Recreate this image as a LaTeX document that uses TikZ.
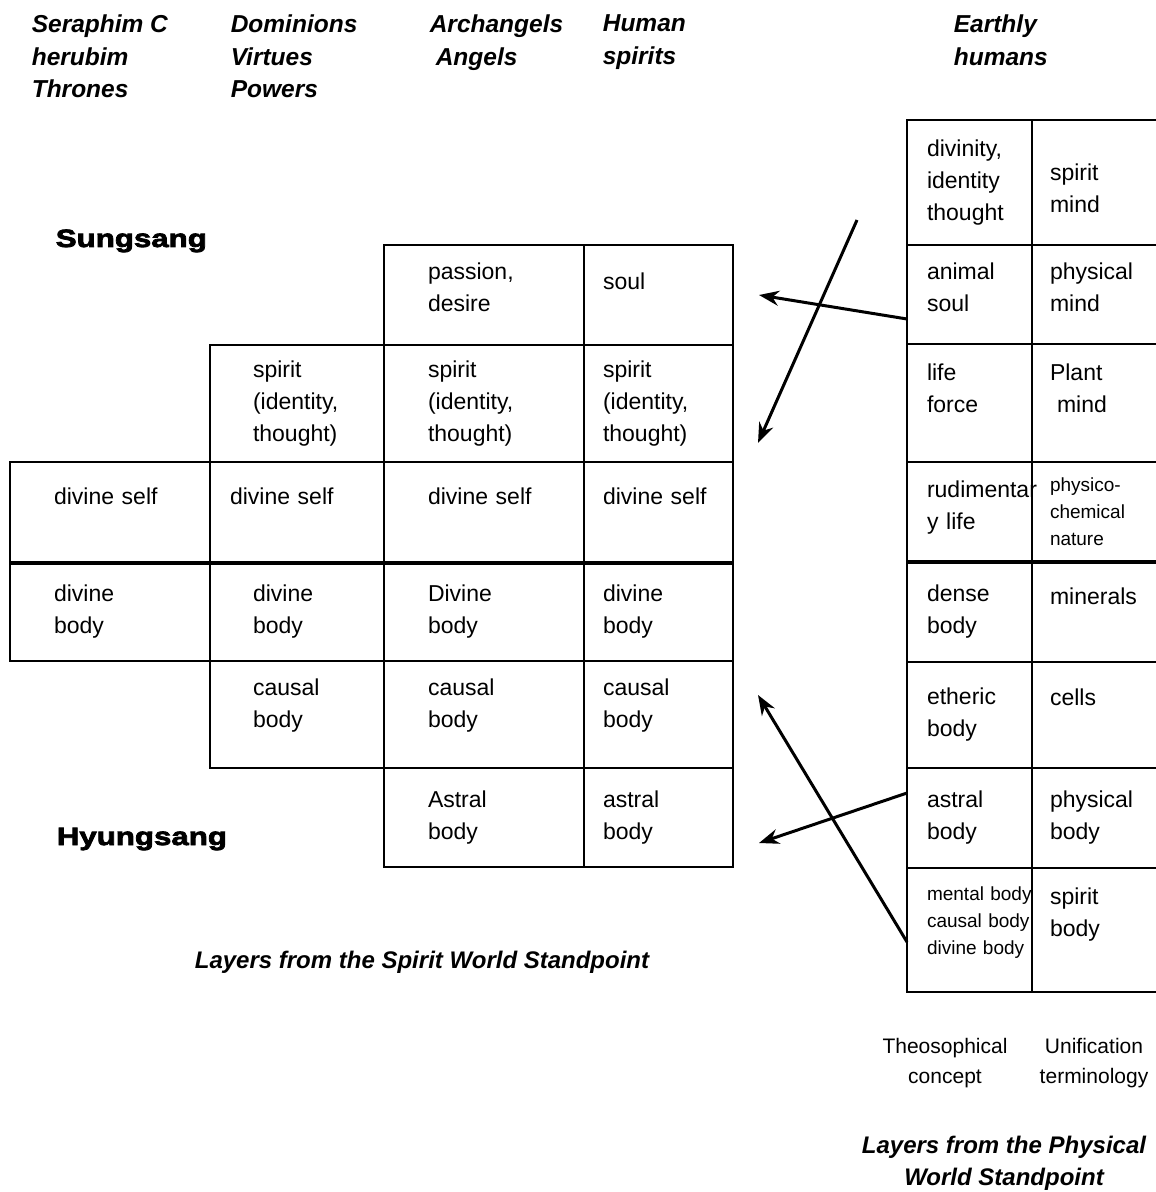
\documentclass[tikz,border=0pt]{standalone}
\usepackage{fontspec}
\setmainfont{Liberation Sans}
\newfontfamily\heavyfont{Liberation Sans}[BoldFeatures={FakeBold=3},FakeStretch=1.25]
\usetikzlibrary{arrows.meta,positioning}
\hyphenpenalty=10000

\begin{document}
\begin{tikzpicture}[x=0.5pt,y=-0.5pt,>={Stealth[length=10pt,width=7.5pt]},
                    thick,node distance=0pt]
  \tikzstyle{cell}=[draw,inner sep=0pt,outer sep=0pt,align=left,font=\fontsize{11.5}{16}\selectfont]
  \tikzstyle{smalltxt}=[font=\fontsize{9.5}{13.5}\selectfont]
  \tikzstyle{colA}=[cell,minimum width=100pt,text width=56pt]
  \tikzstyle{colB}=[cell,minimum width=87pt,text width=44pt]
  \tikzstyle{colBb}=[cell,minimum width=87pt,text width=67pt]
  \tikzstyle{colC}=[cell,minimum width=100pt,text width=56pt]
  \tikzstyle{colD}=[cell,minimum width=74.5pt,text width=55.5pt]
  \tikzstyle{phA}=[cell,minimum width=62.5pt,text width=42.5pt]
  \tikzstyle{phB}=[cell,minimum width=70pt,text width=52pt]
  \tikzstyle{head}=[anchor=north west,inner sep=0pt,align=left,
                    font=\fontsize{12.25}{16.25}\selectfont\bfseries\itshape]
  \tikzstyle{side}=[anchor=base west,inner sep=0pt,font=\fontsize{12.5}{15}\selectfont\heavyfont\bfseries]
  \tikzstyle{captxt}=[inner sep=0pt,align=center,font=\fontsize{12}{16}\selectfont\bfseries\itshape]
  \tikzstyle{colname}=[anchor=north,inner sep=0pt,align=center,font=\fontsize{10.5}{15}\selectfont]
  \tikzstyle{link}=[->,line width=1.5pt]

  \useasboundingbox (0,0) rectangle (1155,1192);

  % headings
  \node[head] (seraphim) at (31,14)  {Seraphim C\\herubim\\Thrones};
  \node[head] (dominions) at (230,14) {Dominions\\Virtues\\Powers};
  \node[head] (archangels) at (429,14) {Archangels\\\hspace*{3pt}Angels};
  \node[head] (human) at (602,14) {Human\\spirits};
  \node[head] (earthly) at (953,14) {Earthly\\humans};

  \node[side] (sungsang) at (55,247) {Sungsang};
  \node[side] (hyungsang) at (56,845) {Hyungsang};

  % spirit world table
  \node[colC,minimum height=50pt,text depth=24pt,anchor=north west] (c1) at (384,245) {passion,\\desire};
  \node[colD,minimum height=50pt,text depth=14pt] (d1) [right=of c1] {soul};

  \node[colB,minimum height=58.5pt,anchor=north west] (b2) at (210,345) {spirit\\(identity,\\thought)};
  \node[colC,minimum height=58.5pt] (c2) [right=of b2] {spirit\\(identity,\\thought)};
  \node[colD,minimum height=58.5pt] (d2) [right=of c2] {spirit\\(identity,\\thought)};

  \node[colA,minimum height=50.5pt,text depth=16pt,anchor=north west] (a3) at (10,462) {divine self};
  \node[colBb,minimum height=50.5pt,text depth=16pt] (b3) [right=of a3] {divine self};
  \node[colC,minimum height=50.5pt,text depth=16pt] (c3) [right=of b3] {divine self};
  \node[colD,minimum height=50.5pt,text depth=16pt] (d3) [right=of c3] {divine self};

  \node[colA,minimum height=49pt,anchor=north west] (a4) at (10,563) {divine\\body};
  \node[colB,minimum height=49pt] (b4) [right=of a4] {divine\\body};
  \node[colC,minimum height=49pt] (c4) [right=of b4] {Divine\\body};
  \node[colD,minimum height=49pt] (d4) [right=of c4] {divine\\body};

  \node[colB,minimum height=53.5pt,text depth=27.5pt,anchor=north west] (b5) at (210,661) {causal\\body};
  \node[colC,minimum height=53.5pt,text depth=27.5pt] (c5) [right=of b5] {causal\\body};
  \node[colD,minimum height=53.5pt,text depth=27.5pt] (d5) [right=of c5] {causal\\body};

  \node[colC,minimum height=49.5pt,anchor=north west] (c6) at (384,768) {Astral\\body};
  \node[colD,minimum height=49.5pt] (d6) [right=of c6] {astral\\body};

  \draw[line width=2pt] (a4.north west) -- (d4.north east);

  % physical world table
  \node[phA,minimum height=62.5pt,anchor=north west] (u1) at (907,120) {divinity,\\identity\\thought};
  \node[phB,minimum height=62.5pt,text depth=10pt] (v1) [right=of u1] {spirit\\mind};
  \node[phA,minimum height=49.5pt,text depth=23pt] (u2) [below=of u1] {animal\\soul};
  \node[phB,minimum height=49.5pt,text depth=23pt] (v2) [right=of u2] {physical\\mind};
  \node[phA,minimum height=59pt,text depth=31pt] (u3) [below=of u2] {life\\force};
  \node[phB,minimum height=59pt,text depth=31pt] (v3) [right=of u3] {Plant\\\hspace*{3.5pt}mind};
  \node[phA,minimum height=50pt,text depth=22.4pt] (u4) [below=of u3] {rudimentar\\y life};
  \node[phB,smalltxt,minimum height=50pt] (v4) [right=of u4] {physico-\\chemical\\nature};
  \node[phA,minimum height=50pt] (u5) [below=of u4] {dense\\body};
  \node[phB,minimum height=50pt,text depth=16pt] (v5) [right=of u5] {minerals};
  \node[phA,minimum height=53pt] (u6) [below=of u5] {etheric\\body};
  \node[phB,minimum height=53pt,text depth=18pt] (v6) [right=of u6] {cells};
  \node[phA,minimum height=50pt] (u7) [below=of u6] {astral\\body};
  \node[phB,minimum height=50pt] (v7) [right=of u7] {physical\\body};
  \node[phA,smalltxt,minimum height=62pt,text depth=36pt] (u8) [below=of u7] {mental~body\\causal~body\\divine~body};
  \node[phB,minimum height=62pt,text depth=33.4pt] (v8) [right=of u8] {spirit\\body};

  \draw[line width=2pt] (u5.north west) -- (v5.north east);

  % arrows
  \coordinate (e1) at (759,295);
  \coordinate (s2) at (857,220);
  \coordinate (e2) at (758,443);
  \coordinate (e3) at (759,843);
  \coordinate (e4) at (758,695);
  \draw[link] ([yshift=-12.25pt]u2.west) -- (e1);
  \draw[link] (s2) -- (e2);
  \draw[link] ([yshift=12.5pt]u7.west) -- (e3);
  \draw[link] ([yshift=-6pt]u8.west) -- (e4);

  % captions
  \node[captxt,anchor=base] (spiritcap) at (422,968) {Layers from the Spirit World Standpoint};
  \node[colname] (theo) at (945,1037) {Theosophical\\concept};
  \node[colname] (unif) at (1094,1037) {Unification\\terminology};
  \node[captxt,anchor=north] (physcap) at (1004,1135) {Layers from the Physical\\World Standpoint};
\end{tikzpicture}
\end{document}
